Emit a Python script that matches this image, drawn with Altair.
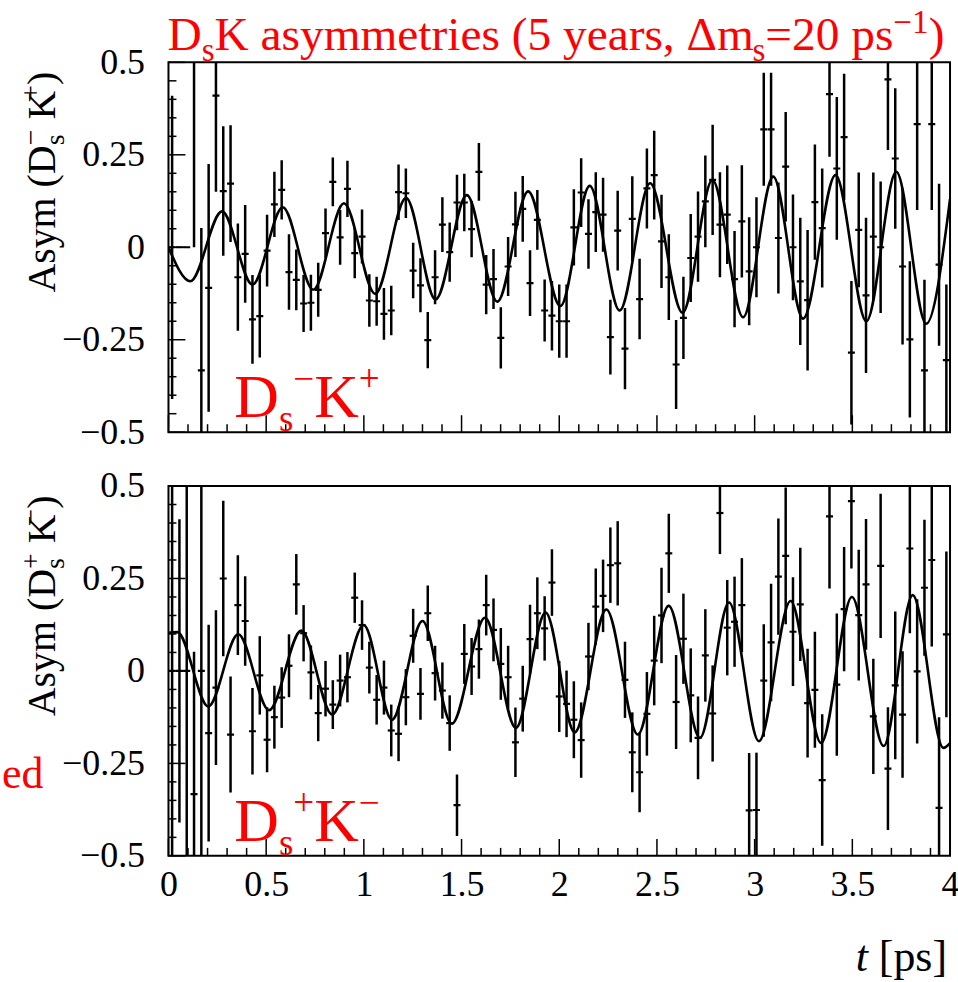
import altair as alt
import pandas as pd

# ---------------- data ----------------
BIN_COUNT = 107
T_LO, T_HI = 0.0, 4.0

top_val = [0.0, 0.0, 0.0, 1.0, -0.333, -0.11, 0.41, 0.152, 0.172, -0.081,
           -0.018, -0.195, -0.186, -0.009, 0.116, 0.155, -0.067, -0.088, -0.152, -0.15,
           -0.115, 0.038, 0.177, 0.027, 0.158, -0.016, 0.029, -0.144, -0.146, -0.18,
           -0.171, 0.149, 0.146, -0.063, -0.103, -0.251, -0.081, 0.061, -0.013, 0.121,
           0.121, 0.049, 0.204, -0.101, -0.086, -0.245, -0.052, 0.062, 0.104, -0.097,
           0.074, -0.171, -0.185, -0.2, -0.2, 0.054, 0.148, 0.036, 0.095, 0.088,
           -0.243, 0.045, -0.274, 0.077, -0.14, 0.159, 0.195, 0.016, -0.081, -0.317,
           -0.191, -0.029, 0.029, 0.124, 0.182, 0.061, 0.088, -0.086, 0.07, -0.065,
           0.0, 0.319, 0.319, 0.025, 0.218, 0.0, -0.092, -0.143, 0.122, 0.052,
           0.414, 0.213, 0.298, -0.285, 0.047, -0.13, 0.029, 0.0, 0.454, 0.24,
           -0.052, -0.249, 0.333, -0.333, 0.333, -0.047, -0.305]
top_err = [0.41, 0.0, 0.0, 1.0, 0.385, 0.335, 0.26, 0.175, 0.158, 0.145,
           0.132, 0.12, 0.112, 0.097, 0.088, 0.08, 0.102, 0.082, 0.077, 0.076,
           0.073, 0.067, 0.066, 0.074, 0.076, 0.068, 0.073, 0.071, 0.066, 0.07,
           0.067, 0.075, 0.067, 0.075, 0.073, 0.076, 0.073, 0.074, 0.08, 0.075,
           0.078, 0.076, 0.078, 0.08, 0.081, 0.083, 0.08, 0.088, 0.089, 0.089,
           0.081, 0.084, 0.094, 0.099, 0.099, 0.103, 0.093, 0.094, 0.108, 0.1,
           0.101, 0.108, 0.11, 0.115, 0.109, 0.108, 0.12, 0.126, 0.116, 0.12,
           0.111, 0.119, 0.122, 0.124, 0.149, 0.142, 0.133, 0.13, 0.152, 0.146,
           0.135, 0.153, 0.153, 0.15, 0.148, 0.143, 0.172, 0.19, 0.156, 0.161,
           0.169, 0.193, 0.171, 0.194, 0.155, 0.21, 0.173, 0.178, 0.191, 0.19,
           0.211, 0.211, 0.232, 0.245, 0.232, 0.219, 0.204]

bot_val = [0.0, 0.0, 0.0, -0.333, 0.0, -0.168, -0.045, 0.25, -0.172, 0.178,
           0.135, -0.163, -0.012, -0.186, -0.125, -0.072, 0.014, 0.234, 0.102, -0.004,
           -0.114, -0.048, -0.091, -0.026, -0.017, 0.198, 0.124, 0.009, -0.078, -0.045,
           -0.161, -0.17, -0.071, 0.095, -0.062, 0.156, -0.006, -0.053, -0.141, -0.363,
           0.046, 0.012, 0.059, 0.178, 0.111, 0.019, -0.017, -0.193, -0.075, 0.086,
           0.156, 0.115, 0.239, -0.069, -0.089, -0.132, -0.187, 0.039, 0.174, 0.203,
           0.286, 0.291, -0.024, -0.22, -0.274, -0.116, 0.028, 0.15, 0.318, -0.084,
           0.087, -0.066, -0.181, 0.042, -0.115, 0.427, 0.117, 0.133, 0.178, -0.377,
           -0.376, -0.026, 0.077, 0.255, 0.311, 0.106, 0.18, -0.087, -0.051, -0.295,
           0.418, -0.037, 0.167, 0.459, 0.151, 0.234, -0.123, 0.284, -0.264, -0.039,
           -0.118, 0.331, -0.001, 0.225, 0.3, -0.37, 0.099]
bot_err = [1.0, 0.41, 1.0, 0.385, 1.0, 0.293, 0.209, 0.21, 0.157, 0.135,
           0.121, 0.117, 0.106, 0.088, 0.085, 0.082, 0.085, 0.082, 0.076, 0.073,
           0.076, 0.075, 0.066, 0.07, 0.068, 0.068, 0.067, 0.07, 0.067, 0.073,
           0.07, 0.074, 0.076, 0.073, 0.07, 0.075, 0.074, 0.076, 0.075, 0.083,
           0.081, 0.077, 0.08, 0.082, 0.085, 0.097, 0.085, 0.094, 0.089, 0.093,
           0.097, 0.087, 0.09, 0.096, 0.09, 0.104, 0.102, 0.091, 0.103, 0.098,
           0.102, 0.114, 0.103, 0.108, 0.108, 0.113, 0.121, 0.129, 0.107, 0.127,
           0.122, 0.127, 0.112, 0.125, 0.13, 0.111, 0.129, 0.122, 0.127, 0.155,
           0.155, 0.152, 0.159, 0.157, 0.185, 0.147, 0.153, 0.147, 0.157, 0.178,
           0.195, 0.192, 0.168, 0.182, 0.177, 0.177, 0.156, 0.195, 0.166, 0.2,
           0.171, 0.229, 0.195, 0.184, 0.234, 0.245, 0.224]

# fitted curves: read turning points (the line is smoothed through them)
top_curve_t = [0.0, 0.112, 0.274, 0.430, 0.585, 0.741, 0.898, 1.058, 1.216, 1.367,
               1.527, 1.683, 1.841, 2.006, 2.156, 2.309, 2.465, 2.631, 2.784, 2.941,
               3.095, 3.248, 3.414, 3.572, 3.725, 3.878, 4.0]
top_curve_v = [0.0, -0.092, 0.097, -0.101, 0.108, -0.115, 0.119, -0.126, 0.133, -0.141,
               0.141, -0.147, 0.151, -0.159, 0.166, -0.171, 0.173, -0.177, 0.182, -0.189,
               0.191, -0.193, 0.195, -0.2, 0.204, -0.207, 0.13]
bot_curve_t = [0.0, 0.045, 0.204, 0.357, 0.515, 0.680, 0.838, 0.999, 1.144, 1.300,
               1.450, 1.620, 1.778, 1.930, 2.079, 2.241, 2.402, 2.560, 2.720, 2.869,
               3.022, 3.184, 3.340, 3.498, 3.660, 3.809, 3.966, 4.0]
bot_curve_v = [0.103, 0.105, -0.096, 0.099, -0.106, 0.109, -0.118, 0.124, -0.132, 0.135,
               -0.143, 0.144, -0.154, 0.158, -0.166, 0.166, -0.172, 0.176, -0.181, 0.185,
               -0.19, 0.189, -0.195, 0.2, -0.203, 0.205, -0.208, -0.195]

x_major = [0, 0.5, 1, 1.5, 2, 2.5, 3, 3.5, 4]
x_minor = [round(0.1 * k, 2) for k in range(41) if k % 5 != 0]
y_major = [-0.5, -0.25, 0, 0.25, 0.5]
y_minor = [round(-0.5 + 0.05 * k, 3) for k in range(21) if k % 5 != 0]

# ---------------- styling ----------------
W, H = 784, 371
FONT = "Liberation Serif"
RED = "#ff0000"
BLACK = "black"

xs = alt.Scale(domain=[T_LO, T_HI], nice=False, zero=False)
ys = alt.Scale(domain=[-0.5, 0.5], nice=False, zero=False)

TW = {' ': 250, '(': 333, ')': 333, 'A': 722, 'D': 722, 'K': 722, 's': 389, 'y': 500,
      'm': 778, 'a': 444, 'e': 444, 't': 278, 'r': 333, 'i': 278, ',': 250, '=': 564,
      'p': 500, '\u2212': 564, '+': 564, '.': 250, '[': 333, ']': 333, '\u0394': 612, 'd': 500}
for _d in '0123456789':
    TW[_d] = 500


def tw(s, size):
    return sum(TW.get(c, 500) for c in s) * size / 1000.0


ONE = pd.DataFrame({"k": [0]})


def piece(text, px, py, size, color, angle=0, align="left", style="normal"):
    kw = dict(text=text, align=align, baseline="alphabetic", font=FONT,
              fontSize=size, color=color, fontStyle=style)
    if angle:
        kw["angle"] = angle
    return alt.Chart(ONE).mark_text(**kw).encode(x=alt.value(px), y=alt.value(py))


def rich(pieces, F, x0, y0, color, rotated=False, script=0.7, sub_k=0.22, sup_k=0.36):
    out = []
    pos = [0.0]
    sub_d, sup_d = sub_k * F, -sup_k * F

    def place(text, perp, size):
        lead = len(text) - len(text.lstrip(' '))
        pos[0] += tw(' ' * lead, size)
        text = text.lstrip(' ')
        if rotated:
            out.append(piece(text, x0 + perp, y0 - pos[0], size, color, angle=270))
        else:
            out.append(piece(text, x0 + pos[0], y0 + perp, size, color))
        return tw(text, size)

    for p in pieces:
        if p[0] == "stack":
            _, sb, sp = p
            start = pos[0]
            w1 = place(sb, sub_d, F * script)
            pos[0] = start
            w2 = place(sp, sup_d, F * script)
            pos[0] = start + max(w1, w2)
        else:
            text, kind = p
            if kind == "n":
                pos[0] += place(text, 0, F)
            else:
                pos[0] += place(text, sub_d if kind == "sub" else sup_d, F * script)
    return out


def tick_layers(xaxis, yaxis):
    L = []
    L.append(alt.Chart(pd.DataFrame({"t": x_major})).mark_rule(color=BLACK, strokeWidth=1.5).encode(
        x=alt.X("t:Q", scale=xs, axis=xaxis, title=None), y=alt.value(H), y2=alt.value(H - 17)))
    L.append(alt.Chart(pd.DataFrame({"t": x_minor})).mark_rule(color=BLACK, strokeWidth=1.5).encode(
        x=alt.X("t:Q", scale=xs, axis=xaxis, title=None), y=alt.value(H), y2=alt.value(H - 8)))
    L.append(alt.Chart(pd.DataFrame({"v": y_major})).mark_rule(color=BLACK, strokeWidth=1.5).encode(
        y=alt.Y("v:Q", scale=ys, axis=yaxis, title=None), x=alt.value(0), x2=alt.value(17)))
    L.append(alt.Chart(pd.DataFrame({"v": y_minor})).mark_rule(color=BLACK, strokeWidth=1.5).encode(
        y=alt.Y("v:Q", scale=ys, axis=yaxis, title=None), x=alt.value(0), x2=alt.value(8)))
    return L


def panel(vals, errs, ct, cv, extra, bottom):
    t = [(i + 0.5) * (T_HI - T_LO) / BIN_COUNT for i in range(BIN_COUNT)]
    df = pd.DataFrame({"t": t, "v": vals, "e": errs})
    xaxis = alt.Axis(values=x_major, format=".2~g", labelFont=FONT, labelFontSize=36,
                     labelPadding=12, ticks=False, tickSize=0, domain=False, grid=False,
                     labelFlush=False, labelOverlap=False, labelColor=BLACK) if bottom else None
    yaxis = alt.Axis(values=y_major, format=".2~g", labelFont=FONT, labelFontSize=36,
                     labelPadding=24, ticks=False, tickSize=0, domain=False, grid=False,
                     labelFlush=False, labelOverlap=False, labelColor=BLACK)
    X = alt.X("t:Q", scale=xs, axis=xaxis, title=None)
    base = alt.Chart(df)
    bars = base.transform_calculate(lo="datum.v - datum.e", hi="datum.v + datum.e").mark_rule(
        color=BLACK, strokeWidth=2.5, clip=True).encode(
        x=X, y=alt.Y("lo:Q", scale=ys, axis=yaxis, title=None), y2="hi:Q")
    marks = base.mark_tick(orient="horizontal", color=BLACK, size=7, thickness=2.2,
                           opacity=1, clip=True).encode(
        x=X, y=alt.Y("v:Q", scale=ys, axis=yaxis, title=None))
    curve = alt.Chart(pd.DataFrame({"t": ct, "v": cv})).mark_line(
        color=BLACK, strokeWidth=2.6, interpolate="monotone", clip=True).encode(
        x=X, y=alt.Y("v:Q", scale=ys, axis=yaxis, title=None))
    layers = [bars, marks, curve] + tick_layers(xaxis, yaxis) + extra
    return alt.layer(*layers).properties(width=W, height=H)


# ---------------- texts ----------------
title_txt = rich([("D", "n"), ("s", "sub"), ("K asymmetries (5 years, \u0394m", "n"), ("s", "sub"),
                  ("=20 ps", "n"), ("\u22121", "sup"), (")", "n")],
                 47.5, -1, -12, RED)
ytitle_top = rich([("Asym (D", "n"), ("stack", "s", "\u2212"), (" K", "n"), ("+", "sup"), (")", "n")],
                  40, -114, 231, BLACK, rotated=True)
ytitle_bot = rich([("Asym (D", "n"), ("stack", "s", "+"), (" K", "n"), ("\u2212", "sup"), (")", "n")],
                  40, -114, 231, BLACK, rotated=True)
label_top = rich([("D", "n"), ("s", "sub"), ("\u2212", "sup"), ("K", "n"), ("+", "sup")],
                 62, 66, 356, RED, script=0.6, sup_k=0.42)
label_bot = rich([("D", "n"), ("s", "sub"), ("+", "sup"), ("K", "n"), ("\u2212", "sup")],
                 62, 66, 356, RED, script=0.6, sup_k=0.42)
ed_txt = [piece("ed", -125.5, 303, 44, RED, align="right")]
xt_F = 44
xt_rest = "[ps]"
xt_x = 781 - tw(xt_rest, xt_F)
xtitle = [piece("t", xt_x - tw(" t", xt_F), 487, xt_F, BLACK, style="italic"),
          piece(xt_rest, xt_x, 487, xt_F, BLACK)]

top = panel(top_val, top_err, top_curve_t, top_curve_v, title_txt + ytitle_top + label_top, False)
bot = panel(bot_val, bot_err, bot_curve_t, bot_curve_v, ytitle_bot + label_bot + ed_txt + xtitle, True)

chart = alt.vconcat(top, bot, spacing=54, bounds="flush").configure_view(
    stroke=BLACK, strokeWidth=2).properties(
    background="white", padding={"left": 0, "top": 3, "right": -2, "bottom": 0})

chart.save("out.html", embed_options={"renderer": "svg", "actions": False})
